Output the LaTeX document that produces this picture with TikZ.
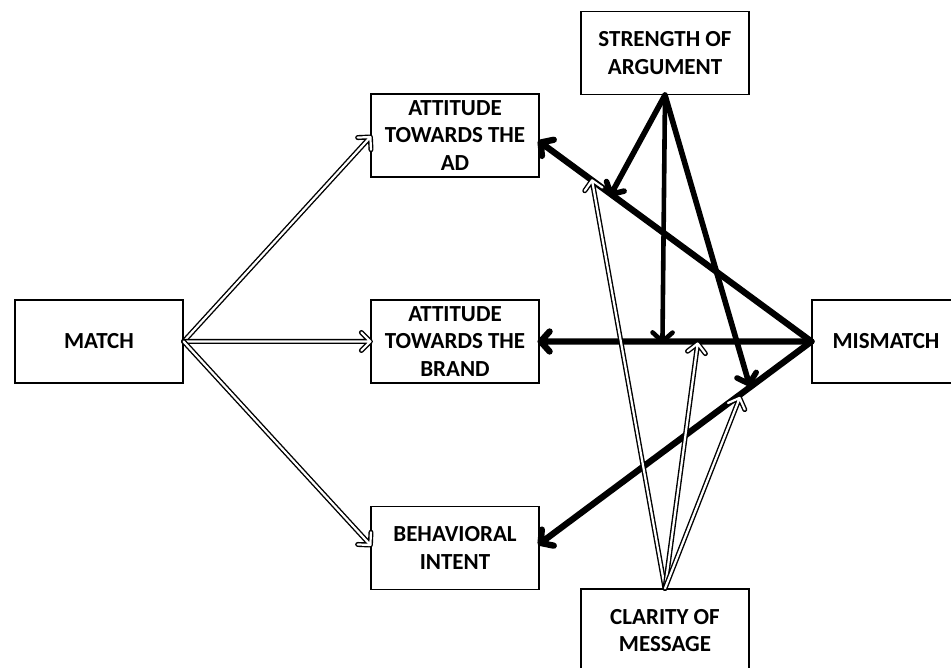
\documentclass[tikz,border=0pt]{standalone}
\usepackage{fontspec}
\setmainfont{Carlito}
\usetikzlibrary{calc}

\tikzset{
  box/.style={draw=black, line width=1.2pt, fill=white, minimum width=168pt,
    minimum height=83pt, inner sep=2pt, align=center,
    font=\bfseries\fontsize{23}{27.5}\selectfont},
  stroke/.style={line cap=round, line join=round},
}

% solid arrow: line width, start, end
\newcommand\heavyarrow[3]{%
  \coordinate (hb) at ($(#3)!9pt!(#2)$);
  \draw[stroke, line width=#1] (#2) -- (#3)
    ($(hb)!10pt!90:(#3)$) -- (#3) -- ($(hb)!10pt!-90:(#3)$);
}
% outlined (hollow) arrow: start, end
\newcommand\hollowarrow[2]{%
  \coordinate (hb) at ($(#2)!9pt!(#1)$);
  \foreach \w/\c in {5pt/black, 2.2pt/white}
    \draw[stroke, line width=\w, draw=\c] (#1) -- (#2)
      ($(hb)!9pt!90:(#2)$) -- (#2) -- ($(hb)!9pt!-90:(#2)$);
}

\begin{document}
\begin{tikzpicture}[x=1pt,y=-1pt]
  \useasboundingbox (0,0) rectangle (951,668);
  \clip (0,0) rectangle (951,668);

  % variables
  \node[box] (match)    at (99,341.5)  {MATCH};
  \node[box] (ad)       at (455,135.5) {ATTITUDE\\TOWARDS THE\\AD};
  \node[box] (brand)    at (455,341.5) {ATTITUDE\\TOWARDS THE\\BRAND};
  \node[box] (behav)    at (455,548)   {BEHAVIORAL\\INTENT};
  \node[box] (strength) at (665,53)    {STRENGTH OF\\ARGUMENT};
  \node[box, minimum width=148pt] (mis) at (886,341.5) {MISMATCH};
  \node[box] (clarity)  at (665,630.5) {CLARITY OF\\MESSAGE};

  % arrow ends and the points where the moderators act on each path
  \coordinate (adIn)    at ($(ad.east)+(1,7)$);
  \coordinate (brandIn) at ($(brand.east)+(1,0)$);
  \coordinate (behavIn) at ($(behav.east)+(1,-5)$);
  \coordinate (sAd)    at ($(mis.west)!0.74!(adIn)$);
  \coordinate (cAd)    at ($(mis.west)!0.81!(adIn)$);
  \coordinate (sBrand) at ($(mis.west)!0.55!(brandIn)$);
  \coordinate (cBrand) at ($(mis.west)!0.42!(brandIn)+(0,2)$);
  \coordinate (sBehav) at ($(mis.west)!0.23!(behavIn)+(0,-4)$);
  \coordinate (cBehav) at ($(mis.west)!0.265!(behavIn)+(0,3)$);

  % effects of the mismatch condition
  \heavyarrow{6.3pt}{mis.west}{adIn}
  \heavyarrow{6.3pt}{mis.west}{brandIn}
  \heavyarrow{6.3pt}{mis.west}{behavIn}

  % strength of argument as moderator
  \heavyarrow{5.6pt}{strength.south}{sAd}
  \heavyarrow{4.6pt}{strength.south}{sBrand}
  \heavyarrow{5.6pt}{strength.south}{sBehav}

  % clarity of message as moderator
  \hollowarrow{clarity.north}{cAd}
  \hollowarrow{clarity.north}{cBrand}
  \hollowarrow{clarity.north}{cBehav}

  % effects of the match condition
  \hollowarrow{match.east}{$(ad.west)+(0,1.5)$}
  \hollowarrow{match.east}{brand.west}
  \hollowarrow{match.east}{$(behav.west)+(0,-3)$}
\end{tikzpicture}
\end{document}
